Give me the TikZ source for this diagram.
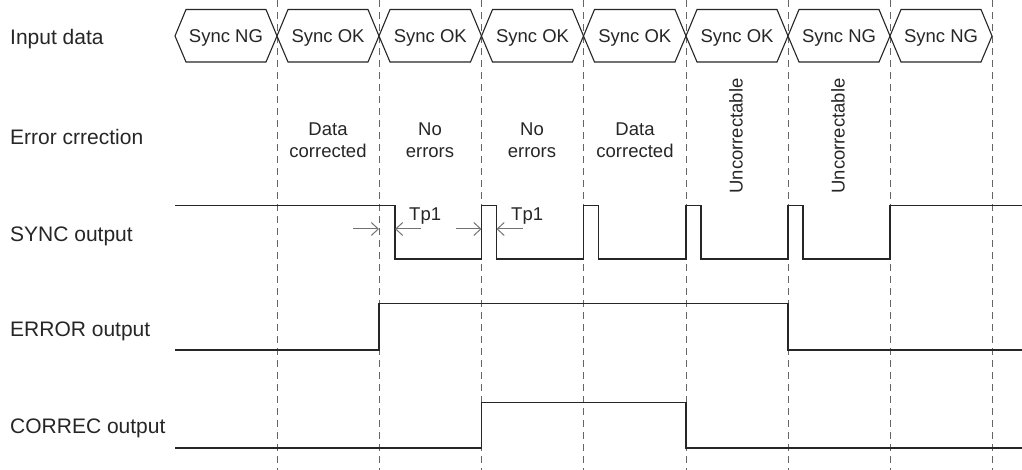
\documentclass[tikz,border=0pt]{standalone}
\usepackage{fontspec}
\setmainfont{Liberation Sans}
\usetikzlibrary{arrows.meta}
\begin{document}
\begin{tikzpicture}[x=1pt,y=-1pt,
  grid/.style={draw=black!60,line width=0.8pt,dash pattern=on 7pt off 5pt},
  hex/.style={draw=black!85,line width=1.1pt,fill=white,line join=miter},
  wave/.style={draw=black!85,line width=1.3pt},
  tparrow/.style={draw=black!55,line width=1pt,-{Straight Barb[length=7pt,width=13pt]}},
  rowlabel/.style={anchor=base west,inner sep=0pt,font=\fontsize{21}{25}\selectfont,text=black!85},
  hexlabel/.style={anchor=base,inner sep=0pt,font=\fontsize{18.5}{22}\selectfont,text=black!85},
  statelabel/.style={align=center,inner sep=0pt,font=\fontsize{18.5}{21.5}\selectfont,text=black!85},
  tplabel/.style={anchor=base west,inner sep=0pt,font=\fontsize{18.5}{22}\selectfont,text=black!85}]
\useasboundingbox (0,0) rectangle (1022,470);
% grid
\foreach \x in {277,379,481.5,583.5,686,788,890,992}
  \draw[grid] (\x,0) -- (\x,470);
% row labels
\node[rowlabel] (lin) at (10,45) {Input data};
\node[rowlabel] (lerr) at (10,145) {Error crrection};
\node[rowlabel] (lsync) at (10,241.5) {SYNC output};
\node[rowlabel] (lerror) at (10,336.5) {ERROR output};
\node[rowlabel] (lcor) at (10,433) {CORREC output};
% input data hexagons
\foreach \l/\r/\t [count=\i] in {175/277/Sync NG,277/379/Sync OK,379/481.5/Sync OK,481.5/583.5/Sync OK,583.5/686/Sync OK,686/788/Sync OK,788/890/Sync NG,890/992/Sync NG}{
  \draw[hex] (\l,36) -- (\l+11,9.5) -- (\r-11,9.5) -- (\r,36) -- (\r-11,62) -- (\l+11,62) -- cycle;
  \node[hexlabel] (d\i) at ({(\l+\r)/2},42.5) {\t};
}
% error correction states
\node[statelabel] (s2) at (328,140) {Data\\corrected};
\node[statelabel] (s3) at (430,140) {No\\errors};
\node[statelabel] (s4) at (532,140) {No\\errors};
\node[statelabel] (s5) at (635,140) {Data\\corrected};
\node[statelabel,rotate=90] (s6) at (736,136) {Uncorrectable};
\node[statelabel,rotate=90] (s7) at (838,136) {Uncorrectable};
% SYNC output
\draw[wave] (175,205.5) -- (395,205.5) -- (395,259) -- (481.5,259) -- (481.5,205.5)
  -- (496.5,205.5) -- (496.5,259) -- (583.5,259) -- (583.5,205.5) -- (598.5,205.5)
  -- (598.5,259) -- (686,259) -- (686,205.5) -- (701,205.5) -- (701,259) -- (788,259)
  -- (788,205.5) -- (803,205.5) -- (803,259) -- (890,259) -- (890,205.5) -- (1022,205.5);
% Tp1 markers
\coordinate (a1s) at (353,229); \coordinate (a1e) at (379,229);
\coordinate (b1s) at (421,229); \coordinate (b1e) at (395,229);
\coordinate (a2s) at (455.5,229); \coordinate (a2e) at (481.5,229);
\coordinate (b2s) at (522.5,229); \coordinate (b2e) at (496.5,229);
\draw[tparrow] (a1s) -- (a1e);
\draw[tparrow] (b1s) -- (b1e);
\draw[tparrow] (a2s) -- (a2e);
\draw[tparrow] (b2s) -- (b2e);
\node[tplabel] (tp1) at (409,221) {Tp1};
\node[tplabel] (tp2) at (511,221) {Tp1};
% ERROR output
\draw[wave] (175,350) -- (379,350) -- (379,303.5) -- (788,303.5) -- (788,350) -- (1022,350);
% CORREC output
\draw[wave] (175,448) -- (481.5,448) -- (481.5,402.5) -- (686,402.5) -- (686,448) -- (1022,448);
\end{tikzpicture}
\end{document}
